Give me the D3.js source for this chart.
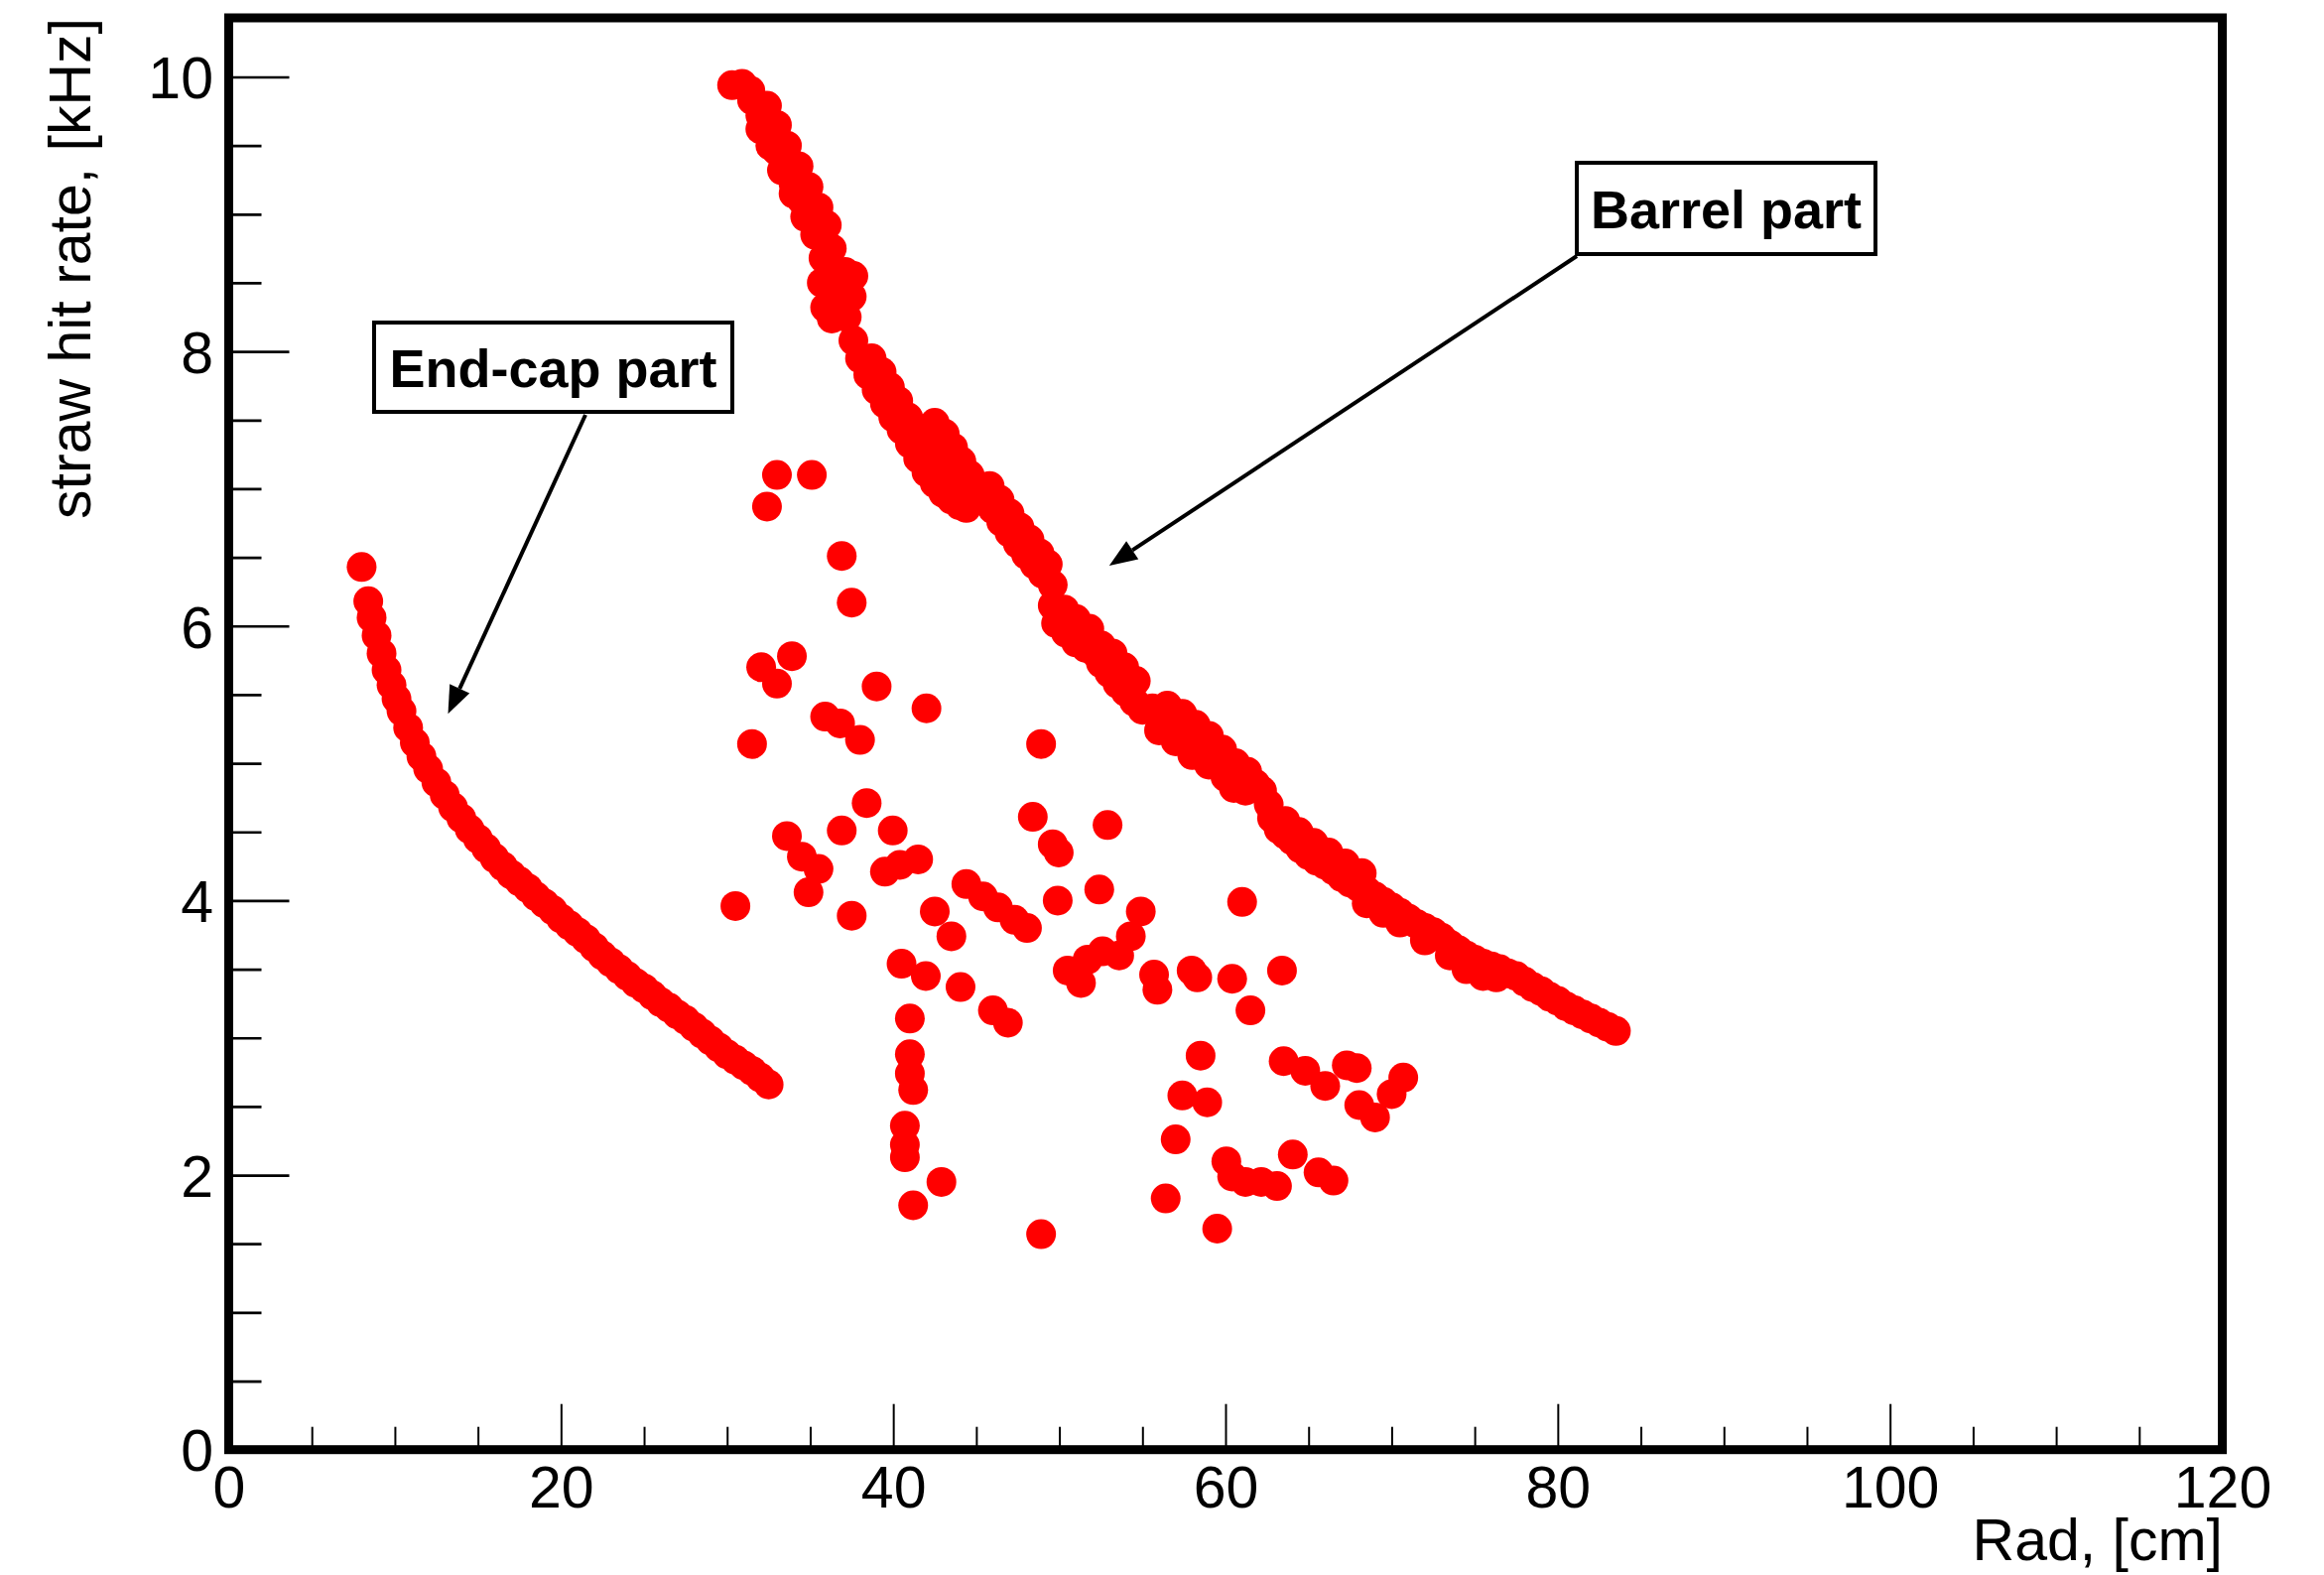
<!DOCTYPE html>
<html>
<head>
<meta charset="utf-8">
<script src="https://cdn.jsdelivr.net/npm/d3@7"></script>
<style>
    body { margin: 0; background: #fff; }
    svg text { font-family: "Liberation Sans", Arial, Helvetica, sans-serif; fill: #000; }
</style>
</head>
<body>
<div id="chart"></div>
<script>
// straw hit rate vs radius
let endcapPoints = [
    [8.0, 6.43], [8.4, 6.18], [8.6, 6.06], [8.9, 5.93], [9.2, 5.80], [9.5, 5.68],
    [9.8, 5.57], [10.1, 5.47], [10.4, 5.38], [10.8, 5.26], [11.2, 5.15], [11.6, 5.05],
    [12.0, 4.96], [12.5, 4.86], [13.0, 4.77], [13.5, 4.68], [14.0, 4.60], [14.5, 4.52],
    [15.0, 4.45], [15.5, 4.38], [16.0, 4.31], [16.5, 4.25], [17.0, 4.19], [17.5, 4.14],
    [18.0, 4.09], [18.5, 4.03], [19.0, 3.98], [19.5, 3.93], [20.0, 3.87], [20.5, 3.82],
    [21.0, 3.77], [21.5, 3.72], [22.0, 3.66], [22.5, 3.60], [23.0, 3.55], [23.5, 3.50],
    [24.0, 3.45], [24.5, 3.40], [25.0, 3.36], [25.5, 3.31], [26.0, 3.26], [26.5, 3.22],
    [27.0, 3.17], [27.5, 3.13], [28.0, 3.08], [28.5, 3.03], [29.0, 2.98], [29.5, 2.93],
    [30.0, 2.88], [30.5, 2.84], [31.0, 2.80], [31.5, 2.76], [32.0, 2.71], [32.5, 2.66]
];

let barrelPoints = [
    [30.3, 9.94], [30.9, 9.95], [31.4, 9.90], [31.5, 9.83], [32.0, 9.72], [32.5, 9.60],
    [32.0, 9.62], [32.6, 9.50], [33.3, 9.32], [34.0, 9.15], [34.7, 8.98], [35.3, 8.85],
    [32.4, 9.79], [33.0, 9.65], [33.6, 9.50], [34.3, 9.35], [34.9, 9.20], [35.5, 9.05], [36.0, 8.92],
    [33.0, 9.46], [33.5, 9.35], [34.0, 9.22], [34.5, 9.10], [35.0, 8.98], [35.5, 8.84], [35.8, 8.68],
    [35.7, 8.50], [35.9, 8.32], [36.3, 8.24], [36.5, 8.55], [37.1, 8.58], [37.6, 8.55],
    [36.3, 8.75], [36.8, 8.40], [37.5, 8.40], [37.2, 8.25], [37.6, 8.08], [38.0, 7.95],
    [38.5, 7.83], [39.0, 7.72], [38.7, 7.95], [39.3, 7.85], [39.8, 7.74], [40.3, 7.64],
    [39.5, 7.62], [40.0, 7.52], [40.5, 7.43], [41.0, 7.33], [41.5, 7.22], [42.0, 7.12],
    [40.9, 7.52], [41.5, 7.40], [42.0, 7.30],
    [42.5, 7.48], [42.6, 7.28], [43.1, 7.40], [43.6, 7.30], [44.1, 7.20], [44.6, 7.10],
    [42.5, 7.04], [43.0, 6.97], [43.5, 6.92], [44.0, 6.88], [44.4, 6.86], [44.0, 7.05],
    [43.0, 7.18], [43.5, 7.12], [45.0, 6.98], [45.5, 6.92], [46.0, 6.85], [46.5, 6.76],
    [47.0, 6.68], [47.5, 6.60], [45.8, 7.02], [46.4, 6.92], [47.0, 6.82], [47.6, 6.72],
    [48.2, 6.63], [48.8, 6.53], [49.3, 6.45],
    [48.0, 6.52], [48.5, 6.45], [49.0, 6.38], [49.6, 6.30], [49.6, 6.15], [49.8, 6.02],
    [50.4, 5.95], [51.0, 5.88], [51.6, 5.84], [52.2, 5.80], [50.3, 6.12], [51.0, 6.05],
    [51.8, 5.98], [52.5, 5.86], [52.5, 5.73], [53.0, 5.66], [53.5, 5.58], [54.0, 5.52],
    [53.2, 5.80], [53.9, 5.70], [54.6, 5.60],
    [54.5, 5.45], [55.0, 5.39], [55.6, 5.40], [56.5, 5.42], [57.4, 5.36], [58.2, 5.28],
    [59.0, 5.20], [59.8, 5.10], [60.6, 5.00], [61.3, 4.94], [56.0, 5.24], [57.0, 5.16],
    [58.0, 5.06], [59.0, 4.99], [60.0, 4.90], [60.5, 4.82], [61.2, 4.80], [61.8, 4.85],
    [57.0, 5.30], [58.5, 5.15], [60.0, 5.02], [61.0, 4.92],
    [62.2, 4.80], [62.6, 4.70], [62.8, 4.60], [63.2, 4.52], [63.6, 4.48], [64.0, 4.44],
    [64.5, 4.38], [65.0, 4.33], [65.5, 4.29], [66.0, 4.26], [66.5, 4.22], [67.0, 4.17],
    [63.6, 4.58], [64.4, 4.50], [65.3, 4.42], [66.2, 4.35], [67.2, 4.27], [68.2, 4.20],
    [67.5, 4.13], [68.0, 4.10], [68.5, 4.07], [69.0, 4.03], [69.5, 3.99], [70.0, 3.95],
    [68.5, 3.98], [69.5, 3.91], [70.5, 3.84], [70.5, 3.91], [71.0, 3.87], [71.5, 3.83],
    [72.0, 3.80], [72.5, 3.77], [72.0, 3.71], [73.0, 3.73], [73.5, 3.68], [73.5, 3.60],
    [74.0, 3.64], [74.5, 3.60], [74.5, 3.50], [75.0, 3.57], [75.5, 3.54], [75.5, 3.45],
    [76.0, 3.52], [76.3, 3.44], [76.5, 3.50], [77.0, 3.47], [77.5, 3.45], [78.0, 3.41],
    [78.5, 3.37], [79.0, 3.34], [79.5, 3.30], [80.0, 3.27], [80.5, 3.23], [81.0, 3.20],
    [81.5, 3.17], [82.0, 3.14], [82.5, 3.11], [83.0, 3.08], [83.5, 3.05]
];

let scatterPoints = [
    [33.0, 7.10], [35.1, 7.10], [32.4, 6.87], [36.9, 6.51], [37.5, 6.17], [33.9, 5.78],
    [32.05, 5.70], [33.0, 5.58], [39.0, 5.56], [42.0, 5.40], [35.9, 5.34], [36.8, 5.29],
    [38.0, 5.17], [31.5, 5.14], [48.9, 5.14], [38.4, 4.71], [48.4, 4.61], [52.9, 4.55],
    [33.6, 4.47], [36.9, 4.51], [39.97, 4.51], [49.6, 4.41], [49.96, 4.35], [34.5, 4.32],
    [35.5, 4.23], [39.5, 4.21], [40.4, 4.26], [41.5, 4.30], [34.9, 4.06], [30.5, 3.96],
    [37.5, 3.89], [44.4, 4.12], [45.4, 4.03], [46.3, 3.95], [47.3, 3.86], [48.05, 3.80],
    [49.9, 4.00], [52.4, 4.08], [42.5, 3.92], [43.5, 3.74], [54.9, 3.92], [54.3, 3.74],
    [53.6, 3.60], [52.6, 3.63], [51.7, 3.57], [50.5, 3.49], [51.3, 3.40], [40.5, 3.54],
    [41.96, 3.45], [44.05, 3.37], [46.0, 3.20], [46.9, 3.11], [55.7, 3.46], [55.9, 3.35],
    [57.96, 3.49], [58.3, 3.44], [60.4, 3.43], [63.4, 3.49], [61.0, 3.99], [61.5, 3.20],
    [41.0, 3.14], [41.0, 2.88], [41.0, 2.74], [41.2, 2.62], [40.7, 2.36], [40.7, 2.22],
    [40.7, 2.13], [42.9, 1.95], [41.2, 1.78], [48.9, 1.57], [58.5, 2.87], [57.4, 2.58],
    [58.9, 2.53], [57.0, 2.26], [56.4, 1.83], [59.5, 1.61], [60.05, 2.10], [60.4, 1.99],
    [61.2, 1.95], [62.15, 1.95], [63.1, 1.92], [64.05, 2.15], [65.6, 2.02], [66.5, 1.96],
    [63.5, 2.83], [64.8, 2.76], [66.0, 2.65], [67.3, 2.80], [67.9, 2.78], [68.05, 2.51],
    [69.0, 2.42], [70.0, 2.59], [70.7, 2.71]
];

let xMajorTicks = [0, 20, 40, 60, 80, 100, 120];
let xMinorTicks = [5, 10, 15, 25, 30, 35, 45, 50, 55, 65, 70, 75, 85, 90, 95, 105, 110, 115];
let yMajorTicks = [0, 2, 4, 6, 8, 10];
let yMinorTicks = [0.5, 1, 1.5, 2.5, 3, 3.5, 4.5, 5, 5.5, 6.5, 7, 7.5, 8.5, 9, 9.5];

let xTitle = "Rad, [cm]";
let yTitle = "straw hit rate, [kHz]";

// annotation: label text and arrow tip in data units
let notes = [
    { text: "End-cap part", tip: [13.2, 5.36] },
    { text: "Barrel part", tip: [53.0, 6.44] }
];

let totalWidth = 2342,
    totalHeight = 1587,
    mTop = 18,
    mLeft = 230.5,
    mRight = totalWidth - 2239.5,
    mBottom = totalHeight - 1460.7;

let width = totalWidth - mLeft - mRight,
    height = totalHeight - mTop - mBottom;

let xScale = d3.scaleLinear().domain([0, 120]).range([0, width]);
let yScale = d3.scaleLinear().domain([0, 10.43]).range([height, 0]);

let svg = d3.select("#chart").append("svg")
    .attr("width", totalWidth)
    .attr("height", totalHeight)
    .style("display", "block");

svg.append("rect").attr("width", totalWidth).attr("height", totalHeight).attr("fill", "#fff");

let g = svg.append("g")
    .attr("transform", "translate(" + mLeft + "," + mTop + ")");

// markers
let allPoints = endcapPoints.concat(barrelPoints, scatterPoints);
g.append("g").selectAll("circle")
    .data(allPoints)
    .enter().append("circle")
    .attr("cx", d => xScale(d[0]))
    .attr("cy", d => yScale(d[1]))
    .attr("r", 15)
    .attr("fill", "#ff0000");

// axes, ticks point inward like ROOT
function styleAxis(sel, sw) {
    sel.select(".domain").remove();
    sel.attr("font-size", null).attr("font-family", null);
    sel.selectAll(".tick line").attr("stroke", "#000").attr("stroke-width", sw);
}

let yMinor = g.append("g").call(d3.axisLeft(yScale).tickValues(yMinorTicks).tickSize(-33).tickFormat(""));
styleAxis(yMinor, 2.7);
let yMajor = g.append("g").call(d3.axisLeft(yScale).tickValues(yMajorTicks).tickSize(-61).tickPadding(15.5).tickFormat(d3.format("d")));
styleAxis(yMajor, 2.7);
yMajor.selectAll(".tick text").attr("font-size", 59).attr("dy", "0.36em");

let xMinor = g.append("g").attr("transform", "translate(0," + height + ")")
    .call(d3.axisBottom(xScale).tickValues(xMinorTicks).tickSize(-23).tickFormat(""));
styleAxis(xMinor, 2);
let xMajor = g.append("g").attr("transform", "translate(0," + height + ")")
    .call(d3.axisBottom(xScale).tickValues(xMajorTicks).tickSize(-46).tickPadding(16).tickFormat(d3.format("d")));
styleAxis(xMajor, 2);
xMajor.selectAll(".tick text").attr("font-size", 59).attr("dy", "0.71em");

// frame
g.append("rect")
    .attr("width", width)
    .attr("height", height)
    .attr("fill", "none")
    .attr("stroke", "#000")
    .attr("stroke-width", 9);

// axis titles
svg.append("text")
    .attr("x", 2240)
    .attr("y", 1572)
    .attr("text-anchor", "end")
    .attr("font-size", 59)
    .text(xTitle);

svg.append("text")
    .attr("transform", "translate(91,18) rotate(-90)")
    .attr("text-anchor", "end")
    .attr("font-size", 59)
    .text(yTitle);

// labelled boxes with arrows
let boxes = [
    { x: 377, y: 325, w: 361, h: 90, from: [590, 418] },
    { x: 1589, y: 164, w: 301, h: 92, from: [1589, 258] }
];

notes.forEach(function(n, i) {
    let b = boxes[i];
    let tip = [xScale(n.tip[0]) + mLeft, yScale(n.tip[1]) + mTop];
    let dx = tip[0] - b.from[0], dy = tip[1] - b.from[1];
    let len = Math.sqrt(dx * dx + dy * dy);
    let ux = dx / len, uy = dy / len;
    let headL = 28, headW = 11;
    let bx = tip[0] - ux * headL, by = tip[1] - uy * headL;

    svg.append("line")
        .attr("x1", b.from[0]).attr("y1", b.from[1])
        .attr("x2", bx).attr("y2", by)
        .attr("stroke", "#000").attr("stroke-width", 4);
    svg.append("path")
        .attr("d", "M" + tip[0] + "," + tip[1] +
            "L" + (bx - uy * headW) + "," + (by + ux * headW) +
            "L" + (bx + uy * headW) + "," + (by - ux * headW) + "Z")
        .attr("fill", "#000");

    svg.append("rect")
        .attr("x", b.x).attr("y", b.y)
        .attr("width", b.w).attr("height", b.h)
        .attr("fill", "#fff")
        .attr("stroke", "#000")
        .attr("stroke-width", 4);
    svg.append("text")
        .attr("x", b.x + b.w / 2)
        .attr("y", b.y + b.h / 2 + 19.5)
        .attr("text-anchor", "middle")
        .attr("font-size", 54)
        .attr("font-weight", "bold")
        .text(n.text);
});
</script>
</body>
</html>
